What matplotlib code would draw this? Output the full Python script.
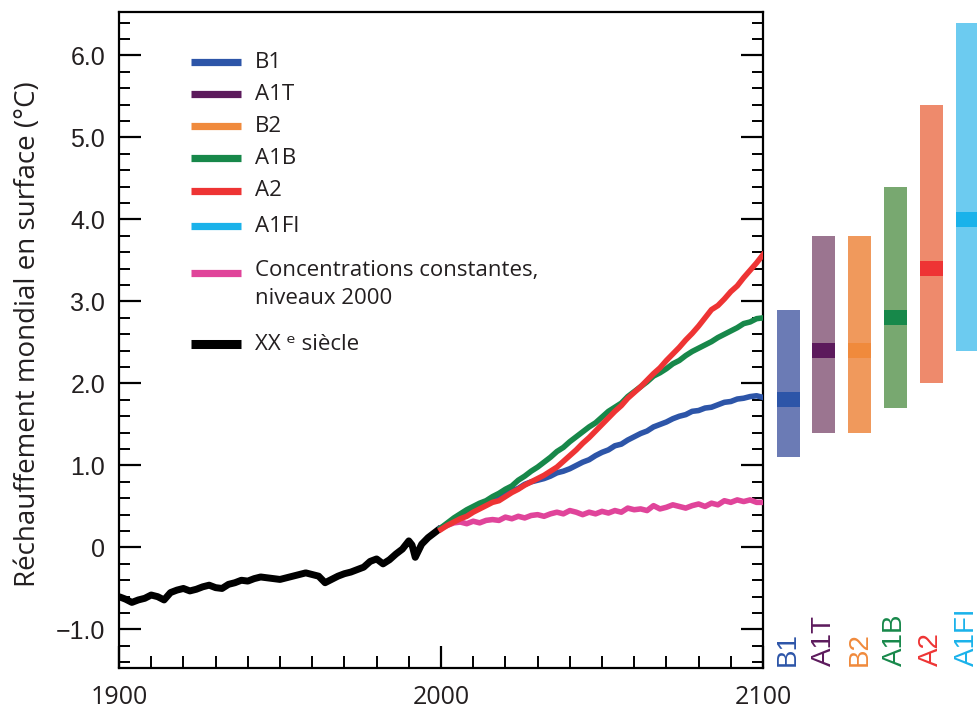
import matplotlib
matplotlib.use("Agg")
import matplotlib.pyplot as plt
from matplotlib.lines import Line2D
from matplotlib.ticker import MultipleLocator
import numpy as np

# ---------------- data ----------------
hist_years = [1900, 1902, 1904, 1906, 1908, 1910, 1912, 1914, 1916, 1918,
              1920, 1922, 1924, 1926, 1928, 1930, 1932, 1934, 1936, 1938,
              1940, 1942, 1944, 1946, 1948, 1950, 1952, 1954, 1956, 1958,
              1960, 1962, 1964, 1966, 1968, 1970, 1972, 1974, 1976, 1978,
              1980, 1982, 1984, 1986, 1988, 1990, 1991, 1992, 1994, 1996,
              1998, 2000]
hist_vals = [-0.60, -0.63, -0.67, -0.64, -0.62, -0.58, -0.60, -0.64, -0.55, -0.52,
             -0.50, -0.53, -0.51, -0.48, -0.46, -0.49, -0.50, -0.45, -0.43, -0.40,
             -0.41, -0.38, -0.36, -0.37, -0.38, -0.39, -0.37, -0.35, -0.33, -0.31,
             -0.33, -0.35, -0.43, -0.39, -0.35, -0.32, -0.30, -0.27, -0.24, -0.17,
             -0.14, -0.20, -0.15, -0.08, -0.02, 0.08, 0.03, -0.12, 0.04, 0.12,
             0.18, 0.24]

proj_years = list(range(2000, 2101, 2))
b1_vals = [0.24, 0.28, 0.33, 0.38, 0.42, 0.47, 0.50, 0.55, 0.58, 0.62,
           0.66, 0.69, 0.72, 0.77, 0.80, 0.82, 0.84, 0.87, 0.91, 0.93,
           0.96, 1.00, 1.04, 1.07, 1.12, 1.16, 1.19, 1.24, 1.26, 1.31,
           1.35, 1.39, 1.42, 1.47, 1.50, 1.53, 1.57, 1.60, 1.62, 1.66,
           1.67, 1.70, 1.71, 1.74, 1.77, 1.78, 1.81, 1.82, 1.84, 1.85,
           1.83]
a1b_vals = [0.24, 0.30, 0.36, 0.41, 0.46, 0.50, 0.54, 0.57, 0.62, 0.66,
            0.71, 0.75, 0.82, 0.87, 0.93, 0.98, 1.04, 1.10, 1.17, 1.22,
            1.29, 1.35, 1.41, 1.47, 1.52, 1.59, 1.66, 1.71, 1.76, 1.84,
            1.90, 1.96, 2.02, 2.09, 2.13, 2.18, 2.24, 2.28, 2.34, 2.39,
            2.43, 2.47, 2.51, 2.56, 2.60, 2.64, 2.68, 2.73, 2.75, 2.79,
            2.80]
a2_vals = [0.22, 0.27, 0.31, 0.35, 0.38, 0.43, 0.47, 0.51, 0.55, 0.57,
           0.62, 0.67, 0.71, 0.76, 0.80, 0.84, 0.88, 0.93, 0.98, 1.05,
           1.12, 1.19, 1.27, 1.34, 1.42, 1.50, 1.58, 1.66, 1.73, 1.82,
           1.89, 1.96, 2.04, 2.12, 2.19, 2.28, 2.36, 2.44, 2.53, 2.61,
           2.70, 2.80, 2.90, 2.95, 3.03, 3.12, 3.19, 3.29, 3.38, 3.47,
           3.57]
const_vals = [0.24, 0.27, 0.30, 0.31, 0.29, 0.32, 0.30, 0.33, 0.34, 0.33,
              0.37, 0.35, 0.38, 0.36, 0.39, 0.40, 0.38, 0.41, 0.43, 0.41,
              0.45, 0.43, 0.40, 0.43, 0.41, 0.44, 0.42, 0.45, 0.43, 0.48,
              0.46, 0.47, 0.45, 0.51, 0.47, 0.49, 0.52, 0.50, 0.48, 0.51,
              0.53, 0.50, 0.54, 0.52, 0.57, 0.55, 0.58, 0.56, 0.58, 0.55,
              0.55]

scenarios = ["B1", "A1T", "B2", "A1B", "A2", "A1FI"]
best_est = [1.8, 2.4, 2.4, 2.8, 3.4, 4.0]
range_low = [1.1, 1.4, 1.4, 1.7, 2.0, 2.4]
range_high = [2.9, 3.8, 3.8, 4.4, 5.4, 6.4]

yticks = [-1, 0, 1, 2, 3, 4, 5, 6]
ytick_labels = ["\u22121.0", "0", "1.0", "2.0", "3.0", "4.0", "5.0", "6.0"]
xticks = [1900, 2000, 2100]
xtick_labels = ["1900", "2000", "2100"]

legend_labels = ["B1", "A1T", "B2", "A1B", "A2", "A1FI",
                 "Concentrations constantes,\nniveaux 2000", "XX \u1d49 si\u00e8cle"]

# ---------------- styles ----------------
main_col = {"B1": "#2d55a8", "A1T": "#5c1a5c", "B2": "#f08a3c", "A1B": "#17884a",
            "A2": "#ee3434", "A1FI": "#1ab2ea"}
bar_col = {"B1": "#6b7bb5", "A1T": "#9b7590", "B2": "#f0995c", "A1B": "#78a870",
           "A2": "#ee8a6c", "A1FI": "#6ccbf0"}
pink = "#e0449a"
txt_col = "#231f20"

W, H = 977, 711
fig = plt.figure(figsize=(W / 100, H / 100), dpi=100)
fig.patch.set_facecolor("white")

def fx(px):
    return px / W

def fy(py):
    return 1 - py / H

L, R, T, B = 119, 763, 12, 668
ax = fig.add_axes([fx(L), fy(B), (R - L) / W, (B - T) / H])
ymin, ymax = -1.47, 6.53
ax.set_xlim(1900, 2100)
ax.set_ylim(ymin, ymax)

ax.plot(hist_years, hist_vals, color="black", lw=5.0, solid_capstyle="butt", zorder=3)
ax.plot(proj_years, const_vals, color=pink, lw=4.0, zorder=4)
ax.plot(proj_years, b1_vals, color=main_col["B1"], lw=4.0, zorder=5)
ax.plot(proj_years, a1b_vals, color=main_col["A1B"], lw=4.0, zorder=6)
ax.plot(proj_years, a2_vals, color=main_col["A2"], lw=4.0, zorder=7)

for s in ax.spines.values():
    s.set_linewidth(1.6)

ax.set_yticks(yticks)
ax.set_yticklabels(ytick_labels, fontsize=18, color=txt_col,
                   family=["Liberation Sans", "DejaVu Sans"])
ax.yaxis.set_minor_locator(MultipleLocator(0.2))
ax.set_xticks(xticks)
ax.set_xticklabels(xtick_labels, fontsize=18, color=txt_col,
                   family=["Liberation Sans Narrow", "Open Sans", "DejaVu Sans"])
ax.xaxis.set_minor_locator(MultipleLocator(10))
ax.tick_params(axis="y", which="major", direction="in", length=16, width=1.6,
               left=True, right=True, pad=10)
ax.tick_params(axis="y", which="minor", direction="in", length=8, width=1.4,
               left=True, right=True)
ax.tick_params(axis="x", which="major", direction="in", length=16, width=1.6,
               bottom=True, top=False, pad=12)
ax.tick_params(axis="x", which="minor", direction="in", length=9, width=1.4,
               bottom=True, top=False)

fig.text(fx(28), fy(334), "R\u00e9chauffement mondial en surface (\u00b0C)",
         rotation=90, ha="center", va="center", fontsize=20,
         family=["Open Sans", "DejaVu Sans"], color=txt_col)

# ---------------- legend (manual) ----------------
leg_y = [62, 94, 126, 158, 191, 226, 273, 344]
leg_cols = [main_col[s] for s in scenarios] + [pink, "black"]
for lab, col, py in zip(legend_labels, leg_cols, leg_y):
    lw = 6.5 if col == "black" else 5.2
    fig.add_artist(Line2D([fx(191), fx(241)], [fy(py), fy(py)], color=col, lw=lw,
                          solid_capstyle="butt", transform=fig.transFigure))
    if "\n" in lab:
        fig.text(fx(255), fy(py - 13), lab, ha="left", va="top", fontsize=16,
                 family=["Open Sans", "DejaVu Sans"], color=txt_col, linespacing=1.45)
    else:
        fig.text(fx(255), fy(py), lab, ha="left", va="center", fontsize=16,
                 family=["Open Sans", "DejaVu Sans"], color=txt_col)

# ---------------- right-hand range bars ----------------
bx0, bx1 = 763, 977
ax2 = fig.add_axes([fx(bx0), fy(B), (bx1 - bx0) / W, (B - T) / H])
ax2.set_ylim(ymin, ymax)
ax2.set_xlim(-0.70, 5.28)
ax2.axis("off")
xpos = np.arange(len(scenarios))
bw = 0.64
heights = [h - l for h, l in zip(range_high, range_low)]
ax2.bar(xpos, heights, bottom=range_low, width=bw,
        color=[bar_col[s] for s in scenarios], zorder=2)
ax2.bar(xpos, [0.18] * len(scenarios), bottom=[b - 0.09 for b in best_est], width=bw,
        color=[main_col[s] for s in scenarios], zorder=3)
for x, s in zip(xpos, scenarios):
    ax2.text(x, ymin + 0.02, s, rotation=90, ha="center", va="bottom",
             fontsize=20, color=main_col[s], family=["Liberation Sans", "DejaVu Sans"])

fig.savefig("out.png", dpi=100, facecolor="white")
